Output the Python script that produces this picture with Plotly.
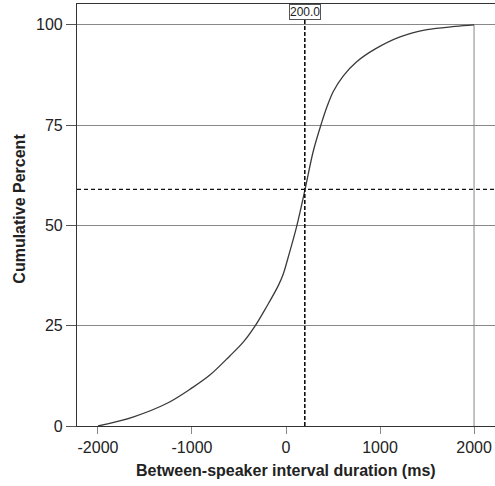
import plotly.graph_objects as go

interval_ms = [-2000, -1620, -1270, -1000, -810, -600, -455, -330, -205, -82, -29, 25,
               113, 202, 290, 379, 433, 503, 610, 752, 950, 1213, 1500, 1800, 2000]
cum_percent = [0, 2.3, 5.6, 9.5, 12.7, 17.4, 20.9, 24.9, 29.8, 35.0, 37.9, 42.2,
               49.7, 58.9, 68.5, 75.6, 79.4, 83.4, 87.3, 90.8, 94.0, 97.0, 98.8, 99.6, 100]
x_ticks = [-2000, -1000, 0, 1000, 2000]
y_ticks = [0, 25, 50, 75, 100]
marker_x = 200
marker_y = 59
marker_label = "200.0"
x_title = "Between-speaker interval duration (ms)"
y_title = "Cumulative Percent"

font_family = "Liberation Sans, Arial, sans-serif"

fig = go.Figure()
fig.add_trace(go.Scatter(
    x=interval_ms, y=cum_percent, mode="lines",
    line=dict(color="#3a3a3a", width=1.3, shape="spline", smoothing=1.0),
    hoverinfo="skip", showlegend=False))

# vertical grey line at end of distribution
fig.add_shape(type="line", x0=2000, x1=2000, y0=0, y1=100,
              line=dict(color="#999999", width=1.2), layer="below")
# dashed marker lines
fig.add_shape(type="line", x0=marker_x, x1=marker_x, y0=0, y1=101.3,
              line=dict(color="#111111", width=1.6, dash="4px,2px"))
fig.add_shape(type="line", xref="paper", x0=0, x1=1, y0=marker_y, y1=marker_y,
              line=dict(color="#111111", width=1.4, dash="4px,3px"))
fig.add_annotation(x=marker_x, y=103.3, text=marker_label, showarrow=False,
                   font=dict(family=font_family, size=12, color="#222222"),
                   bordercolor="#555555", borderwidth=1, borderpad=0,
                   bgcolor="white")
# axis titles
fig.add_annotation(xref="paper", yref="paper", x=0.501, y=0, yshift=-44,
                   xanchor="center", yanchor="middle", showarrow=False,
                   text="<b>" + x_title + "</b>",
                   font=dict(family=font_family, size=16, color="#222222"))
fig.add_annotation(xref="paper", yref="paper", x=0, y=0.515, xshift=-57,
                   xanchor="center", yanchor="middle", showarrow=False,
                   textangle=-90, text="<b>" + y_title + "</b>",
                   font=dict(family=font_family, size=16, color="#222222"))

fig.update_layout(
    width=495, height=486,
    margin=dict(l=77, r=0, t=4, b=60, autoexpand=False),
    plot_bgcolor="white", paper_bgcolor="white",
    font=dict(family=font_family, size=16, color="#222222"),
    xaxis=dict(
        range=[-2223, 2223], tickvals=x_ticks, ticktext=[str(v) for v in x_ticks],
        showgrid=False, zeroline=False, automargin=False,
        showline=True, linecolor="#333333", linewidth=1.2, mirror=True,
        ticks="outside", ticklen=7, tickcolor="#888888", tickwidth=1.2,
        tickfont=dict(size=16, color="#222222"),
    ),
    yaxis=dict(
        range=[0, 105.2], tickvals=y_ticks, ticktext=[str(v) for v in y_ticks],
        showgrid=True, gridcolor="#888888", gridwidth=1.2, zeroline=False,
        automargin=False,
        showline=True, linecolor="#333333", linewidth=1.2,
        ticks="outside", ticklen=10, tickcolor="#555555", tickwidth=1.2,
        tickfont=dict(size=16, color="#222222"),
    ),
)

fig.write_html("out.html", config={"displayModeBar": False},
               post_script="document.body.style.margin='0';document.body.style.overflow='hidden';")
